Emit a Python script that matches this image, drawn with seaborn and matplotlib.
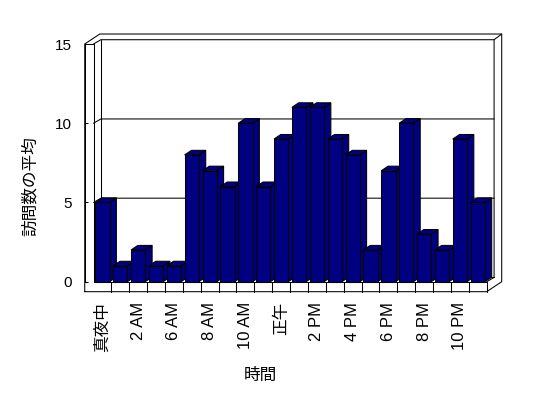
import matplotlib
matplotlib.use("Agg")
import matplotlib.pyplot as plt
import seaborn as sns
import pandas as pd
from matplotlib.patches import Polygon
from matplotlib.lines import Line2D

# ---- data ----
hours = ["真夜中", "1 AM", "2 AM", "5 AM", "6 AM", "7 AM", "8 AM", "9 AM", "10 AM", "11 AM",
         "正午", "1 PM", "2 PM", "3 PM", "4 PM", "5 PM", "6 PM", "7 PM", "8 PM", "9 PM",
         "10 PM", "11 PM"]
visits = [5, 1, 2, 1, 1, 8, 7, 6, 10, 6, 9, 11, 11, 9, 8, 2, 7, 10, 3, 2, 9, 5]
y_ticks = [0, 5, 10, 15]
x_title = "時間"
y_title = "訪問数の平均"

sns.set_style("white")
plt.rcParams["font.family"] = ["Liberation Sans", "Noto Sans CJK JP", "DejaVu Sans"]

NAVY = "#000080"
LW = 0.75

W, H = 548, 398
fig = plt.figure(figsize=(W / 100, H / 100), dpi=100)
left_px, right_px, top_px, bot_px = 93.5, 486.7, 44.0, 281.7
ax = fig.add_axes([left_px / W, (H - bot_px) / H, (right_px - left_px) / W, (bot_px - top_px) / H])

df = pd.DataFrame({"hour": hours, "visits": visits})
sns.barplot(data=df, x="hour", y="visits", order=hours, color=NAVY, saturation=1,
            edgecolor="black", linewidth=LW, width=0.8, ax=ax)

ax.set_xlim(-0.5, len(hours) - 0.5)
ax.set_ylim(0, 15)
xmax = len(hours) - 0.5

# depth vectors (data units)
Dx, Dy = 0.413, 0.27      # inner plot depth
DDx, DDy = 0.84, 0.63     # incl. wall thickness
bDx, bDy = 0.38, 0.29     # bar depth
XL = -0.99                # outer left wall edge
FB = -0.63                # floor bottom

def line(xs, ys, z=1):
    ax.add_line(Line2D(xs, ys, color="black", lw=LW, zorder=z, clip_on=False,
                       solid_joinstyle="miter"))

# frame / walls
line([XL, XL, XL + DDx, xmax + DDx, xmax + DDx, xmax, XL],
     [FB, 15, 15 + DDy, 15 + DDy, 0, FB, FB])
line([XL, -0.5, -0.5], [15, 15, 0])
line([-0.5, xmax], [0, 0])
line([xmax, xmax], [0, FB])
line([-0.5, -0.5 + Dx, xmax + Dx, xmax + Dx], [15, 15 + Dy, 15 + Dy, Dy])
line([xmax + Dx, xmax + DDx], [15 + Dy, 15 + DDy])
line([xmax, xmax + Dx], [0, Dy])
line([-0.5 + Dx, -0.5 + Dx, xmax + Dx], [15 + Dy, Dy, Dy])
for v in y_ticks[1:-1]:
    line([-0.5, -0.5 + Dx, xmax + Dx], [v, v + Dy, v + Dy])
for k in range(1, len(hours)):
    line([k - 0.5, k - 0.5], [0, FB])

# 3D bar faces built from the seaborn bar patches
for i, p in enumerate(ax.patches):
    x0, w, h = p.get_x(), p.get_width(), p.get_height()
    x1 = x0 + w
    base = 3 + 3 * i
    side = Polygon([(x1, 0), (x1, h), (x1 + bDx, h + bDy), (x1 + bDx, bDy)],
                   closed=True, facecolor=NAVY, edgecolor="black", lw=LW,
                   zorder=base, clip_on=False)
    top = Polygon([(x0, h), (x1, h), (x1 + bDx, h + bDy), (x0 + bDx, h + bDy)],
                  closed=True, facecolor=NAVY, edgecolor="black", lw=LW,
                  zorder=base + 1, clip_on=False)
    ax.add_patch(side)
    ax.add_patch(top)
    p.set_zorder(base + 2)
    p.set_clip_on(False)

# axes styling
for s in ["top", "right", "bottom"]:
    ax.spines[s].set_visible(False)
ax.spines["left"].set_position(("outward", 6.3))
ax.spines["left"].set_linewidth(LW)
ax.spines["left"].set_color("black")
ax.set_yticks(y_ticks)
ax.tick_params(axis="y", direction="in", length=2.3, width=LW, pad=9, labelsize=11,
               colors="black", left=True)
ax.set_xticks(range(0, len(hours), 2))
ax.set_xticklabels(hours[::2], rotation=90)
ax.tick_params(axis="x", length=0, pad=14.5, labelsize=12, colors="black")

ax.set_xlabel(x_title, fontsize=12, color="black")
ax.xaxis.label.set_va("center")
ax.xaxis.set_label_coords((260 - left_px) / (right_px - left_px),
                          (bot_px - 375) / (bot_px - top_px))
ax.set_ylabel(y_title, fontsize=12, color="black")
ax.yaxis.label.set_va("center")
ax.yaxis.label.set_ha("center")
ax.yaxis.set_label_coords((30 - left_px) / (right_px - left_px),
                          (bot_px - 186) / (bot_px - top_px))
ax.grid(False)

fig.savefig("out.png", dpi=100)
